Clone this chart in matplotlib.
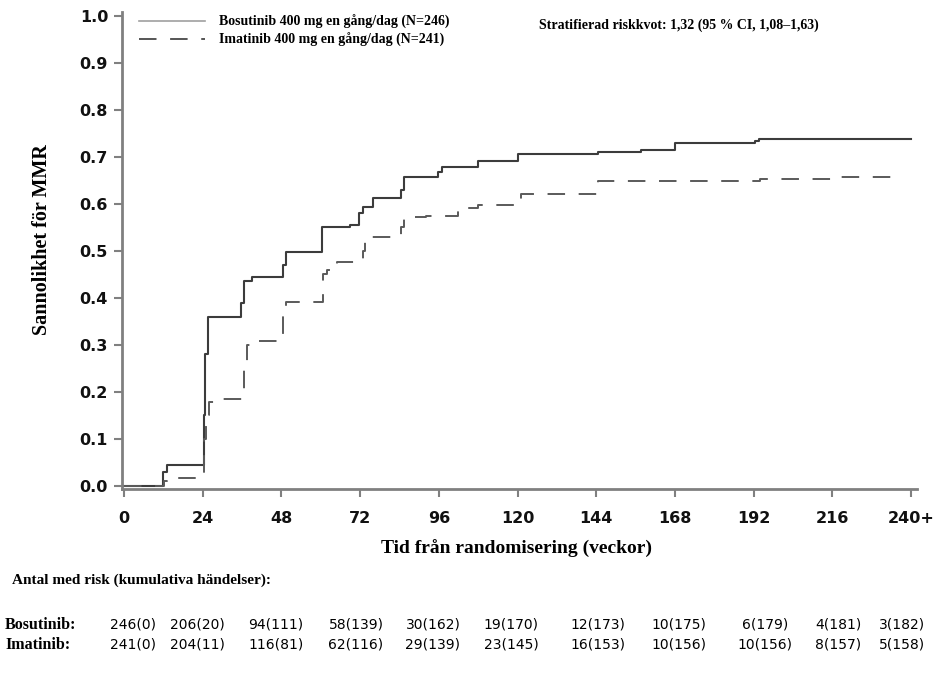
import matplotlib
matplotlib.use("Agg")
import matplotlib.pyplot as plt
from matplotlib.lines import Line2D

# Kaplan-Meier style step curves (weeks, probability)
bos_weeks = [0, 12, 13, 24.4, 24.8, 25.5, 35.7, 36.5, 39, 48.5, 49.5, 60.5,
             69, 71.6, 73, 76, 84.5, 85.5, 95.7, 97, 108, 120, 144.5,
             157.6, 168, 192.5, 193.5, 240]
bos_prob = [0, 0.03, 0.045, 0.15, 0.28, 0.36, 0.39, 0.436, 0.445, 0.47, 0.497, 0.551,
            0.555, 0.58, 0.594, 0.613, 0.63, 0.657, 0.668, 0.679, 0.691, 0.706, 0.711,
            0.715, 0.730, 0.735, 0.738, 0.738]

ima_weeks = [0, 12.2, 13, 24.4, 25, 26, 29, 36.6, 37.5, 38.7, 48, 48.5, 49.5,
             60.6, 62, 65, 72.9, 73.5, 84.5, 85.5, 92, 102, 108, 120.4, 121,
             144.5, 194, 216, 237]
ima_prob = [0, 0.01, 0.017, 0.10, 0.15, 0.178, 0.185, 0.25, 0.30, 0.309, 0.31, 0.37, 0.391,
            0.45, 0.46, 0.477, 0.50, 0.53, 0.55, 0.572, 0.575, 0.591, 0.598, 0.61, 0.621,
            0.649, 0.653, 0.658, 0.658]

xticks = [0, 24, 48, 72, 96, 120, 144, 168, 192, 216, 240]
xtick_labels = ["0", "24", "48", "72", "96", "120", "144", "168", "192", "216", "240+"]
yticks = [0.0, 0.1, 0.2, 0.3, 0.4, 0.5, 0.6, 0.7, 0.8, 0.9, 1.0]

legend_labels = ["Bosutinib 400 mg en gång/dag (N=246)",
                 "Imatinib 400 mg en gång/dag (N=241)"]
hr_text = "Stratifierad riskkvot: 1,32 (95 % CI, 1,08–1,63)"

risk_title = "Antal med risk (kumulativa händelser):"
risk_rows = ["Bosutinib:", "Imatinib:"]
bos_risk = ["246(0)", "206(20)", "94(111)", "58(139)", "30(162)", "19(170)",
            "12(173)", "10(175)", "6(179)", "4(181)", "3(182)"]
ima_risk = ["241(0)", "204(11)", "116(81)", "62(116)", "29(139)", "23(145)",
            "16(153)", "10(156)", "10(156)", "8(157)", "5(158)"]

W, H = 945, 675
SERIF = "Liberation Serif"
fig = plt.figure(figsize=(W / 100, H / 100), dpi=100)
fig.patch.set_facecolor("white")

# axes box in pixels: left spine x=122, right 917, bottom 489, top 12
ax = fig.add_axes([122 / W, 1 - 489 / H, (917 - 122) / W, (489 - 12) / H])

ax.step(bos_weeks, bos_prob, where="post", color="#3c3c3c", lw=1.5)
ima, = ax.step(ima_weeks, ima_prob, where="post", color="#5a5a5a", lw=1.4)
ima.set_dashes([9, 7])

ax.set_xlim(-0.6, 241.8)
ax.set_ylim(-0.0064, 1.0085)
ax.set_xticks(xticks)
ax.set_xticklabels(xtick_labels)
ax.set_yticks(yticks)
ax.set_yticklabels([f"{v:.1f}" for v in yticks])

for s in ["top", "right"]:
    ax.spines[s].set_visible(False)
for s in ["left", "bottom"]:
    ax.spines[s].set_color("#808080")
    ax.spines[s].set_linewidth(2)
ax.tick_params(axis="both", colors="#808080", width=1.5, length=6,
               labelcolor="#111111", labelsize=11.5)
ax.tick_params(axis="x", pad=10)
ax.tick_params(axis="y", pad=4)
for lab in ax.get_xticklabels() + ax.get_yticklabels():
    lab.set_fontweight("bold")
    lab.set_family("DejaVu Sans")

handles = [Line2D([0], [0], color="#a0a0a0", lw=1.2),
           Line2D([0], [0], color="#555555", lw=1.4, dashes=[9, 7])]
leg = ax.legend(handles, legend_labels, loc="upper left",
                bbox_to_anchor=((133 - 122) / (917 - 122), 1.005),
                frameon=False, handlelength=4.8, handletextpad=1.0,
                labelspacing=0.3, borderaxespad=0,
                prop={"family": SERIF, "weight": "bold", "size": 10})

fig.text(539 / W, 1 - 25 / H, hr_text, family=SERIF, weight="bold",
         fontsize=10, ha="left", va="center")

fig.text(42 / W, 1 - 240 / H, "Sannolikhet för MMR", family=SERIF,
         weight="bold", fontsize=14.5, rotation=90, ha="center", va="center")
fig.text(517 / W, 1 - 549 / H, "Tid från randomisering (veckor)", family=SERIF,
         weight="bold", fontsize=14, ha="center", va="center")

# risk table under the plot
fig.text(12 / W, 1 - 580 / H, risk_title, family=SERIF, weight="bold",
         fontsize=11, ha="left", va="center")
col_px = [133, 197, 276, 356, 433, 511, 598, 679, 765, 838, 902]
row_px = [625, 645]
for label, vals, y in zip(risk_rows, [bos_risk, ima_risk], row_px):
    fig.text(5 / W, 1 - y / H, label, family=SERIF, weight="bold",
             fontsize=11.5, ha="left", va="center")
    for v, x in zip(vals, col_px):
        fig.text(x / W, 1 - y / H, v, family="DejaVu Sans", fontsize=10,
                 ha="center", va="center", color="black")

fig.savefig("out.png", dpi=100, facecolor="white")
